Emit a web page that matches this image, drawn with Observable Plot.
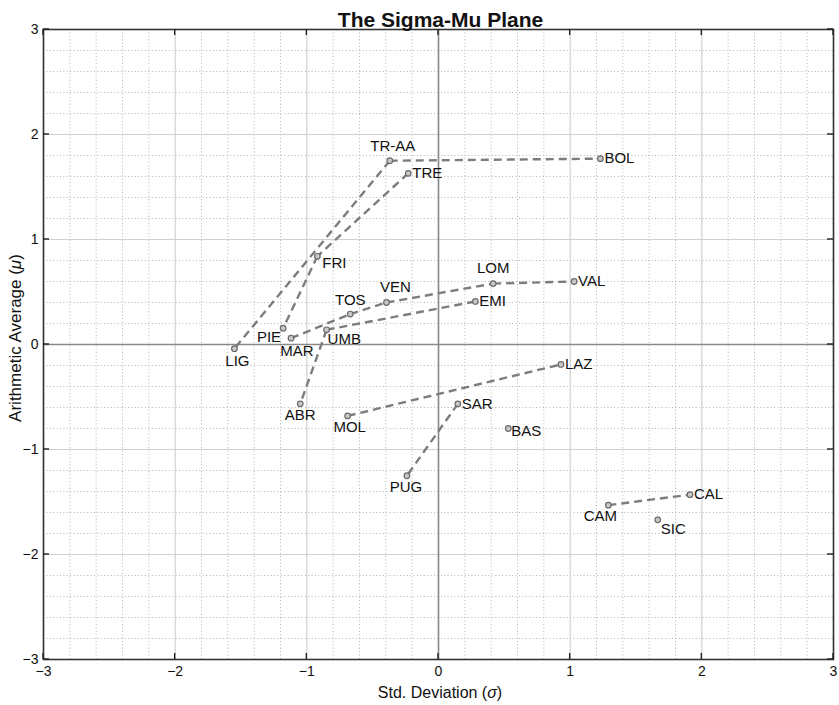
<!DOCTYPE html>
<html>
<head>
<meta charset="utf-8">
<script src="https://cdn.jsdelivr.net/npm/d3@7"></script>
<script src="https://cdn.jsdelivr.net/npm/@observablehq/plot@0.6"></script>
<style>
  html, body { margin: 0; padding: 0; background: #fff; }
  #chart svg { display: block; }
</style>
</head>
<body>
<div id="chart"></div>
<script>
// ---- data ----
const regions = ["TR-AA","TRE","BOL","FRI","PIE","LIG","MAR","UMB","TOS","VEN","EMI","LOM","VAL","LAZ","ABR","MOL","SAR","BAS","PUG","CAM","CAL","SIC"];
const sigma = [-0.37,-0.23,1.23,-0.92,-1.18,-1.55,-1.12,-0.85,-0.67,-0.395,0.28,0.415,1.03,0.93,-1.05,-0.69,0.147,0.53,-0.24,1.29,1.91,1.665];
const mu = [1.75,1.63,1.77,0.84,0.155,-0.04,0.06,0.14,0.29,0.40,0.41,0.58,0.60,-0.19,-0.565,-0.68,-0.565,-0.80,-1.25,-1.53,-1.43,-1.67];
const links = [["TR-AA","BOL"],["TR-AA","LIG"],["TRE","FRI"],["FRI","PIE"],["MAR","TOS"],["TOS","VEN"],["VEN","LOM"],["LOM","VAL"],["UMB","EMI"],["UMB","ABR"],["MOL","LAZ"],["SAR","PUG"],["CAM","CAL"]];
const majorTicks = [-3,-2,-1,0,1,2,3];

// ---- label placement (layout only) ----
const labelPlace = {
  "TR-AA":[3,-15,"middle"], TRE:[4,0,"start"], BOL:[4,0,"start"], FRI:[5,7,"start"],
  PIE:[-2,9,"end"], LIG:[3,12,"middle"], MAR:[6,13,"middle"], UMB:[1,9,"start"],
  TOS:[0,-14,"middle"], VEN:[9,-15,"middle"], EMI:[4,0,"start"], LOM:[0,-15,"middle"],
  VAL:[4,0,"start"], LAZ:[4,0,"start"], ABR:[0,11,"middle"], MOL:[2,11,"middle"],
  SAR:[4,0,"start"], BAS:[3,3,"start"], PUG:[-1,11,"middle"], CAM:[-8,11,"middle"],
  CAL:[4,0,"start"], SIC:[3,9,"start"]
};

const pts = regions.map((r, i) => ({region: r, sigma: sigma[i], mu: mu[i]}));
const byName = new Map(pts.map(d => [d.region, d]));
const segs = links.map(([a, b]) => ({a: byName.get(a), b: byName.get(b)}));
const minor = d3.ticks(-3, 3, 30).filter(v => Math.abs(v - Math.round(v)) > 1e-6);

const font = "'Liberation Sans', Arial, Helvetica, sans-serif";
const fmt = d3.format("d");

const labelMarks = pts.map(d => {
  const [dx, dy, anchor] = labelPlace[d.region];
  return Plot.text([d], {x: "sigma", y: "mu", text: "region", dx, dy, textAnchor: anchor, fontSize: 15, fill: "#111"});
});

const chart = Plot.plot({
  width: 839,
  height: 705,
  marginLeft: 43,
  marginRight: 6,
  marginTop: 29,
  marginBottom: 46,
  style: {fontFamily: font, background: "#fff"},
  x: {domain: [-3, 3], label: null},
  y: {domain: [-3, 3], label: null},
  marks: [
    Plot.ruleX(minor, {stroke: "#b4b4b4", strokeDasharray: "1,2.4", strokeWidth: 1}),
    Plot.ruleY(minor, {stroke: "#b4b4b4", strokeDasharray: "1,2.4", strokeWidth: 1}),
    Plot.ruleX(majorTicks, {stroke: "#d0d0d0", strokeWidth: 1.2}),
    Plot.ruleY(majorTicks, {stroke: "#d0d0d0", strokeWidth: 1.2}),
    Plot.ruleX([0], {stroke: "#8a8a8a", strokeWidth: 1.6}),
    Plot.ruleY([0], {stroke: "#8a8a8a", strokeWidth: 1.6}),
    Plot.axisX(majorTicks, {anchor: "bottom", tickSize: 0, tickPadding: 7, fontSize: 14, fill: "#111", label: null, tickFormat: fmt}),
    Plot.axisY(majorTicks, {anchor: "left", tickSize: 0, tickPadding: 5, fontSize: 14, fill: "#111", label: null, tickFormat: fmt}),
    Plot.frame({stroke: "#333", strokeWidth: 1.6}),
    Plot.link(segs, {x1: d => d.a.sigma, y1: d => d.a.mu, x2: d => d.b.sigma, y2: d => d.b.mu,
      stroke: "#7d7d7d", strokeWidth: 2.4, strokeDasharray: "8,5"}),
    Plot.dot(pts, {x: "sigma", y: "mu", r: 2.8, stroke: "#6a6a6a", fill: "#c8c8c8", strokeWidth: 1.2}),
    ...labelMarks,
    Plot.text(["The Sigma-Mu Plane"], {frameAnchor: "top", dx: 2, dy: -17, fontSize: 21, fontWeight: "bold", fill: "#111"})
  ]
});

const svg = d3.select(chart);
const xs = chart.scale("x"), ys = chart.scale("y");
const [x0, x1] = xs.range, [yb, yt] = ys.range;
// inward tick marks at major values on all four sides of the box
const tg = svg.append("g").attr("stroke", "#222").attr("stroke-width", 1.4);
majorTicks.forEach(v => {
  const px = xs.apply(v), py = ys.apply(v);
  tg.append("line").attr("x1", px).attr("x2", px).attr("y1", yb).attr("y2", yb - 6);
  tg.append("line").attr("x1", px).attr("x2", px).attr("y1", yt).attr("y2", yt + 6);
  tg.append("line").attr("y1", py).attr("y2", py).attr("x1", x0).attr("x2", x0 + 6);
  tg.append("line").attr("y1", py).attr("y2", py).attr("x1", x1).attr("x2", x1 - 6);
});
// x axis label with italic sigma
const xl = svg.append("text")
  .attr("x", 440).attr("y", 698)
  .attr("text-anchor", "middle")
  .attr("font-size", 16).attr("fill", "#111")
  .attr("font-family", font);
xl.append("tspan").text("Std. Deviation (");
xl.append("tspan").attr("font-style", "italic").text("σ");
xl.append("tspan").text(")");
// y axis label with italic mu
const yl = svg.append("text")
  .attr("transform", "translate(21,338) rotate(-90)")
  .attr("text-anchor", "middle")
  .attr("font-size", 17).attr("fill", "#111")
  .attr("font-family", font);
yl.append("tspan").text("Arithmetic Average (");
yl.append("tspan").attr("font-style", "italic").text("μ");
yl.append("tspan").text(")");

document.getElementById("chart").appendChild(chart);
</script>
</body>
</html>
